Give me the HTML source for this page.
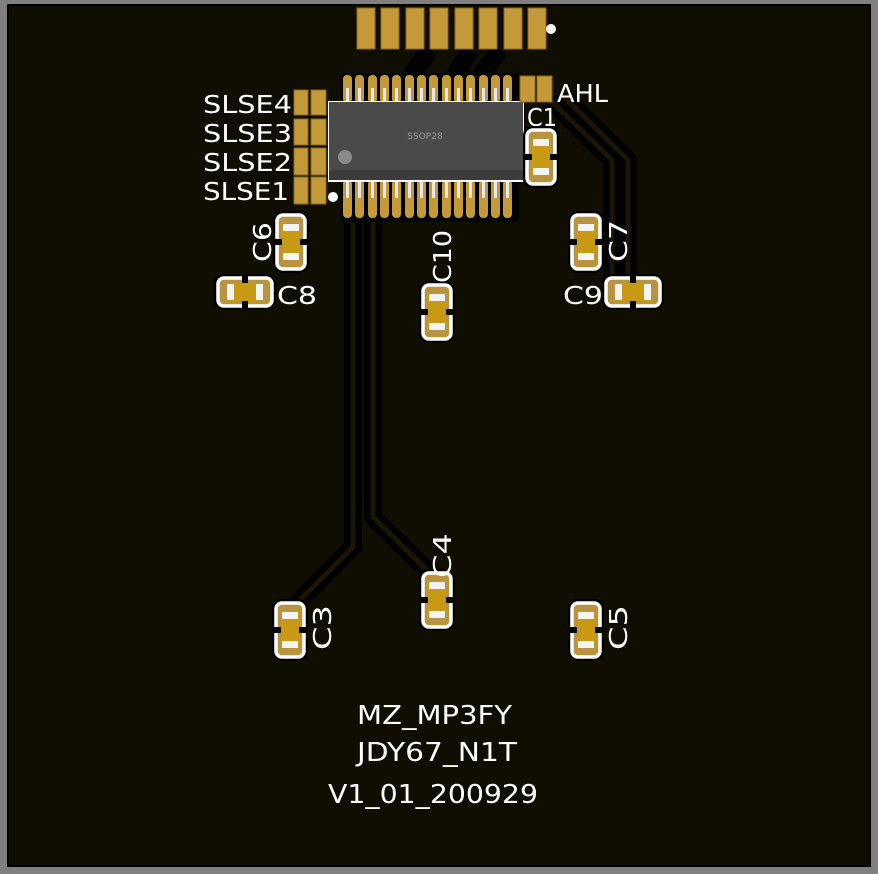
<!DOCTYPE html>
<html><head><meta charset="utf-8"><style>
html,body{margin:0;padding:0;background:#808080;}
svg{display:block;}
text{font-family:"DejaVu Sans","Liberation Sans",sans-serif;fill:#fff;}
</style></head><body>
<svg width="878" height="874" viewBox="0 0 878 874" xmlns="http://www.w3.org/2000/svg">
<defs>
<g id="cv">
<rect x="-18" y="-31" width="36" height="62" rx="9" fill="#000"/>
<rect x="-14" y="-27" width="28" height="54" rx="6" fill="#b89440" stroke="#fff" stroke-width="3.5"/>
<rect x="-17" y="-3" width="34" height="6" fill="#000"/>
<rect x="-9" y="-18" width="18" height="36" fill="#c89a14"/>
<rect x="-8" y="-18" width="16" height="7" fill="#f4f4f4"/>
<rect x="-8" y="11" width="16" height="7" fill="#f4f4f4"/>
</g>
<g id="ch"><use href="#cv" transform="rotate(90)"/></g>
</defs>
<rect x="8" y="5" width="862" height="861" fill="#100d03"/>
<rect x="8" y="5" width="862" height="861" fill="none" stroke="#000" stroke-width="2"/>
<g fill="none" stroke-linejoin="round">
<g stroke="#000" stroke-width="18">
<polyline points="353,215 353,547 290,610"/>
<polyline points="373,215 373,517 437,580"/>
<polyline points="550,100 612,160 612,285"/>
<polyline points="562,95 628,160 628,280"/>
<polyline points="430,50 410,76"/><polyline points="470,50 455,76"/><polyline points="500,50 480,76"/>
</g>
<g stroke="#1a1506" stroke-width="5">
<polyline points="353,215 353,547 290,610"/>
<polyline points="373,215 373,517 437,580"/>
<polyline points="550,100 612,160 612,285"/>
<polyline points="562,95 628,160 628,280"/>
</g>
</g>
<g fill="#c49a38" stroke="#8a6a1e" stroke-width="1">
<rect x="357" y="8" width="18" height="41"/><rect x="381" y="8" width="18" height="41"/>
<rect x="406" y="8" width="18" height="41"/><rect x="430" y="8" width="18" height="41"/>
<rect x="455" y="8" width="18" height="41"/><rect x="479" y="8" width="18" height="41"/>
<rect x="504" y="8" width="18" height="41"/><rect x="528" y="8" width="18" height="41"/>
</g>
<circle cx="551" cy="29" r="5" fill="#fff"/>
<rect x="341" y="73" width="178" height="30" fill="#000"/>
<rect x="341" y="178" width="178" height="44" fill="#000"/>
<g fill="#c49a38">
<rect x="343" y="75" width="9" height="28" rx="4"/><rect x="355" y="75" width="9" height="28" rx="4"/><rect x="368" y="75" width="9" height="28" rx="4"/><rect x="380" y="75" width="9" height="28" rx="4"/><rect x="392" y="75" width="9" height="28" rx="4"/><rect x="405" y="75" width="9" height="28" rx="4"/><rect x="417" y="75" width="9" height="28" rx="4"/><rect x="429" y="75" width="9" height="28" rx="4"/><rect x="442" y="75" width="9" height="28" rx="4"/><rect x="454" y="75" width="9" height="28" rx="4"/><rect x="466" y="75" width="9" height="28" rx="4"/><rect x="479" y="75" width="9" height="28" rx="4"/><rect x="491" y="75" width="9" height="28" rx="4"/><rect x="503" y="75" width="9" height="28" rx="4"/>
<rect x="343" y="180" width="9" height="38" rx="4"/><rect x="355" y="180" width="9" height="38" rx="4"/><rect x="368" y="180" width="9" height="38" rx="4"/><rect x="380" y="180" width="9" height="38" rx="4"/><rect x="392" y="180" width="9" height="38" rx="4"/><rect x="405" y="180" width="9" height="38" rx="4"/><rect x="417" y="180" width="9" height="38" rx="4"/><rect x="429" y="180" width="9" height="38" rx="4"/><rect x="442" y="180" width="9" height="38" rx="4"/><rect x="454" y="180" width="9" height="38" rx="4"/><rect x="466" y="180" width="9" height="38" rx="4"/><rect x="479" y="180" width="9" height="38" rx="4"/><rect x="491" y="180" width="9" height="38" rx="4"/><rect x="503" y="180" width="9" height="38" rx="4"/>
</g>
<g fill="#e8e8e8">
<rect x="346" y="88" width="3" height="14"/><rect x="358" y="88" width="3" height="14"/><rect x="371" y="88" width="3" height="14"/><rect x="383" y="88" width="3" height="14"/><rect x="395" y="88" width="3" height="14"/><rect x="408" y="88" width="3" height="14"/><rect x="420" y="88" width="3" height="14"/><rect x="432" y="88" width="3" height="14"/><rect x="445" y="88" width="3" height="14"/><rect x="457" y="88" width="3" height="14"/><rect x="469" y="88" width="3" height="14"/><rect x="482" y="88" width="3" height="14"/><rect x="494" y="88" width="3" height="14"/><rect x="506" y="88" width="3" height="14"/>
<rect x="346" y="181" width="3" height="17"/><rect x="358" y="181" width="3" height="17"/><rect x="371" y="181" width="3" height="17"/><rect x="383" y="181" width="3" height="17"/><rect x="395" y="181" width="3" height="17"/><rect x="408" y="181" width="3" height="17"/><rect x="420" y="181" width="3" height="17"/><rect x="432" y="181" width="3" height="17"/><rect x="445" y="181" width="3" height="17"/><rect x="457" y="181" width="3" height="17"/><rect x="469" y="181" width="3" height="17"/><rect x="482" y="181" width="3" height="17"/><rect x="494" y="181" width="3" height="17"/><rect x="506" y="181" width="3" height="17"/>
</g>
<rect x="328" y="101" width="196" height="81" fill="#fff"/>
<rect x="329" y="102" width="194" height="78" fill="#4a4a4a"/>
<rect x="329" y="170" width="194" height="10" fill="#3c3c3c"/>
<circle cx="345" cy="157" r="7" fill="#8a8a8a"/>
<text x="425" y="139" font-size="9" text-anchor="middle" style="fill:#9a9a9a">SSOP28</text>
<circle cx="333" cy="197" r="5" fill="#fff"/>
<g fill="#c49a38" stroke="#8a6a1e" stroke-width="1">
<rect x="294" y="90" width="14" height="25"/><rect x="311" y="90" width="15" height="25"/>
<rect x="294" y="119" width="14" height="26"/><rect x="311" y="119" width="15" height="26"/>
<rect x="294" y="148" width="14" height="27"/><rect x="311" y="148" width="15" height="27"/>
<rect x="294" y="177" width="14" height="27"/><rect x="311" y="177" width="15" height="27"/>
<rect x="520" y="76" width="15" height="26"/><rect x="537" y="76" width="15" height="26"/>
</g>
<g font-size="25" lengthAdjust="spacingAndGlyphs">
<text x="203" y="113" textLength="89" lengthAdjust="spacingAndGlyphs">SLSE4</text>
<text x="203" y="142" textLength="89" lengthAdjust="spacingAndGlyphs">SLSE3</text>
<text x="203" y="171" textLength="89" lengthAdjust="spacingAndGlyphs">SLSE2</text>
<text x="203" y="200" textLength="86" lengthAdjust="spacingAndGlyphs">SLSE1</text>
<text x="557" y="102" textLength="51" lengthAdjust="spacingAndGlyphs">AHL</text>
<text x="527" y="126" textLength="30" lengthAdjust="spacingAndGlyphs">C1</text>
<text x="277" y="304" textLength="40" lengthAdjust="spacingAndGlyphs">C8</text>
<text x="563" y="304" textLength="40" lengthAdjust="spacingAndGlyphs">C9</text>
</g>
<use href="#cv" x="541" y="157"/>
<use href="#cv" x="291" y="242"/>
<use href="#cv" x="586" y="242"/>
<use href="#cv" x="437" y="312"/>
<use href="#cv" x="290" y="630"/>
<use href="#cv" x="437" y="600"/>
<use href="#cv" x="586" y="630"/>
<use href="#ch" x="245" y="292"/>
<use href="#ch" x="633" y="292"/>
<g font-size="25">
<text transform="translate(271,262) rotate(-90)" textLength="40" lengthAdjust="spacingAndGlyphs">C6</text>
<text transform="translate(627,262) rotate(-90)" textLength="42" lengthAdjust="spacingAndGlyphs">C7</text>
<text transform="translate(451,283) rotate(-90)" textLength="53" lengthAdjust="spacingAndGlyphs">C10</text>
<text transform="translate(331,650) rotate(-90)" textLength="45" lengthAdjust="spacingAndGlyphs">C3</text>
<text transform="translate(451,578) rotate(-90)" textLength="45" lengthAdjust="spacingAndGlyphs">C4</text>
<text transform="translate(627,650) rotate(-90)" textLength="45" lengthAdjust="spacingAndGlyphs">C5</text>
</g>
<g font-size="26">
<text x="357" y="724" textLength="155" lengthAdjust="spacingAndGlyphs">MZ_MP3FY</text>
<text x="357" y="761" textLength="160" lengthAdjust="spacingAndGlyphs">JDY67_N1T</text>
<text x="328" y="803" textLength="210" lengthAdjust="spacingAndGlyphs">V1_01_200929</text>
</g>
</svg>
</body></html>
